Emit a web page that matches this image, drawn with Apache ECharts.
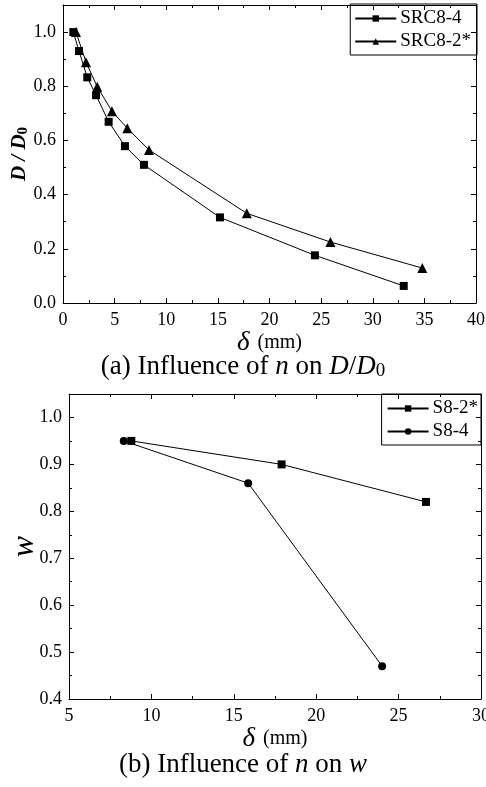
<!DOCTYPE html>
<html>
<head>
<meta charset="utf-8">
<script src="https://cdn.jsdelivr.net/npm/echarts@6/dist/echarts.min.js"></script>
<style>
  html, body { margin: 0; padding: 0; background: #fff; }
  #chart { width: 486px; height: 787px; }
</style>
</head>
<body>
<div id="chart"></div>
<script>
// (a) D/D0 vs delta
var src84_x = [1.0, 1.55, 2.35, 3.2, 4.42, 6.0, 7.84, 15.2, 24.4, 33.0];
var src84_y = [1.0, 0.93, 0.833, 0.767, 0.669, 0.579, 0.51, 0.316, 0.176, 0.063];
var src82_x = [1.26, 2.23, 3.32, 4.74, 6.23, 8.33, 17.8, 25.9, 34.8];
var src82_y = [1.0, 0.889, 0.798, 0.708, 0.645, 0.565, 0.331, 0.225, 0.129];
// (b) w vs delta
var s82_x = [8.78, 17.9, 26.66];
var s82_y = [0.95, 0.90, 0.82];
var s84_x = [8.32, 15.87, 24.0];
var s84_y = [0.95, 0.86, 0.47];

function pairs(xs, ys) {
  return xs.map(function (x, i) { return [x, ys[i]]; });
}

var FONT = '"Liberation Serif", "DejaVu Serif", serif';
var black = '#000';

function valueAxis(opts) {
  var base = {
    type: 'value',
    nameMoveOverlap: false,
    axisLine: { show: true, onZero: false, lineStyle: { color: black, width: 1 } },
    axisTick: { show: true, inside: true, length: 5, lineStyle: { color: black } },
    minorTick: { show: true, splitNumber: 2, length: 3, lineStyle: { color: black } },
    splitLine: { show: false },
    axisLabel: { color: black, fontFamily: FONT, fontSize: 18, margin: 8 }
  };
  return Object.assign(base, opts);
}

var deltaName = {
  name: '{d|δ}{m|(mm)}', nameLocation: 'middle', nameGap: 26,
  nameTextStyle: {
    rich: {
      d: { fontFamily: FONT, fontSize: 27, fontStyle: 'italic', color: black },
      m: { fontFamily: FONT, fontSize: 20, color: black, padding: [0, 0, 0, 8] }
    }
  }
};

var chart = echarts.init(document.getElementById('chart'));

chart.setOption({
  animation: false,
  backgroundColor: '#fff',
  title: [
    {
      text: '(a) Influence of {i|n} on {i|D}/{i|D}{s|0}',
      left: 'center', top: 347,
      textStyle: {
        fontFamily: FONT, fontSize: 27, fontWeight: 'normal', color: black,
        rich: {
          i: { fontFamily: FONT, fontSize: 27, fontStyle: 'italic', color: black },
          s: { fontFamily: FONT, fontSize: 19, color: black, padding: [10, 0, 0, 0] }
        }
      }
    },
    {
      text: '(b) Influence of {i|n} on {i|w}',
      left: 'center', top: 746,
      textStyle: {
        fontFamily: FONT, fontSize: 27, fontWeight: 'normal', color: black,
        rich: {
          i: { fontFamily: FONT, fontSize: 27, fontStyle: 'italic', color: black }
        }
      }
    }
  ],
  grid: [
    { left: 63, top: 5, right: 10, height: 298, containLabel: false, outerBoundsMode: 'none' },
    { left: 69, top: 394, right: 5, height: 305, containLabel: false, outerBoundsMode: 'none' }
  ],
  legend: [
    {
      data: ['SRC8-4', 'SRC8-2*'],
      orient: 'vertical', right: 9, top: 4,
      borderColor: black, borderWidth: 1, borderRadius: 0,
      padding: [5, 6, 4, 4], itemGap: 4, itemWidth: 41, itemHeight: 8,
      textStyle: { fontFamily: FONT, fontSize: 19, color: black, padding: [0, 0, 0, -1] }
    },
    {
      data: ['S8-2*', 'S8-4'],
      orient: 'vertical', right: 5, top: 394,
      borderColor: black, borderWidth: 1, borderRadius: 0,
      padding: [5, 3, 4, 5], itemGap: 4, itemWidth: 41, itemHeight: 8,
      textStyle: { fontFamily: FONT, fontSize: 19, color: black, padding: [0, 0, 0, -1] }
    }
  ],
  xAxis: [
    valueAxis(Object.assign({ gridIndex: 0, min: 0, max: 40, interval: 5, position: 'bottom' }, deltaName)),
    valueAxis({
      gridIndex: 0, min: 0, max: 40, interval: 5, position: 'top',
      axisLabel: { show: false }
    }),
    valueAxis(Object.assign({ gridIndex: 1, min: 5, max: 30, interval: 5, position: 'bottom' }, deltaName)),
    valueAxis({
      gridIndex: 1, min: 5, max: 30, interval: 5, position: 'top',
      axisLabel: { show: false }
    })
  ],
  yAxis: [
    valueAxis({
      gridIndex: 0, min: 0, max: 1.1, interval: 0.2, position: 'left',
      axisLabel: {
        color: black, fontFamily: FONT, fontSize: 18, margin: 7,
        formatter: function (v) { return v > 1.05 ? '' : v.toFixed(1); }
      },
      name: '{i|D / D}{s|0}', nameLocation: 'middle', nameRotate: 90, nameGap: 32,
      nameTextStyle: {
        rich: {
          i: { fontFamily: FONT, fontSize: 21, fontStyle: 'italic', fontWeight: 'bold', color: black },
          s: { fontFamily: FONT, fontSize: 15, fontWeight: 'bold', color: black, padding: [8, 0, 0, 0] }
        }
      }
    }),
    valueAxis({
      gridIndex: 0, min: 0, max: 1.1, interval: 0.2, position: 'right',
      axisLabel: { show: false }
    }),
    valueAxis({
      gridIndex: 1, min: 0.4, max: 1.05, interval: 0.1, position: 'left',
      axisLabel: {
        color: black, fontFamily: FONT, fontSize: 18, margin: 7,
        formatter: function (v) { return v > 1.01 ? '' : v.toFixed(1); }
      },
      name: 'w', nameLocation: 'middle', nameRotate: 90, nameGap: 28,
      nameTextStyle: { fontFamily: FONT, fontSize: 32, fontStyle: 'italic', color: black }
    }),
    valueAxis({
      gridIndex: 1, min: 0.4, max: 1.05, interval: 0.1, position: 'right',
      axisLabel: { show: false }
    })
  ],
  series: [
    {
      name: 'SRC8-4', type: 'line', xAxisIndex: 0, yAxisIndex: 0,
      data: pairs(src84_x, src84_y),
      symbol: 'rect', symbolSize: 8,
      itemStyle: { color: black },
      lineStyle: { color: black, width: 1 }
    },
    {
      name: 'SRC8-2*', type: 'line', xAxisIndex: 0, yAxisIndex: 0,
      data: pairs(src82_x, src82_y),
      symbol: 'triangle', symbolSize: 10,
      itemStyle: { color: black },
      lineStyle: { color: black, width: 1 }
    },
    {
      name: 'S8-2*', type: 'line', xAxisIndex: 2, yAxisIndex: 2,
      data: pairs(s82_x, s82_y),
      symbol: 'rect', symbolSize: 8,
      itemStyle: { color: black },
      lineStyle: { color: black, width: 1 }
    },
    {
      name: 'S8-4', type: 'line', xAxisIndex: 2, yAxisIndex: 2,
      data: pairs(s84_x, s84_y),
      symbol: 'circle', symbolSize: 8,
      itemStyle: { color: black },
      lineStyle: { color: black, width: 1 }
    }
  ]
});
</script>
</body>
</html>
